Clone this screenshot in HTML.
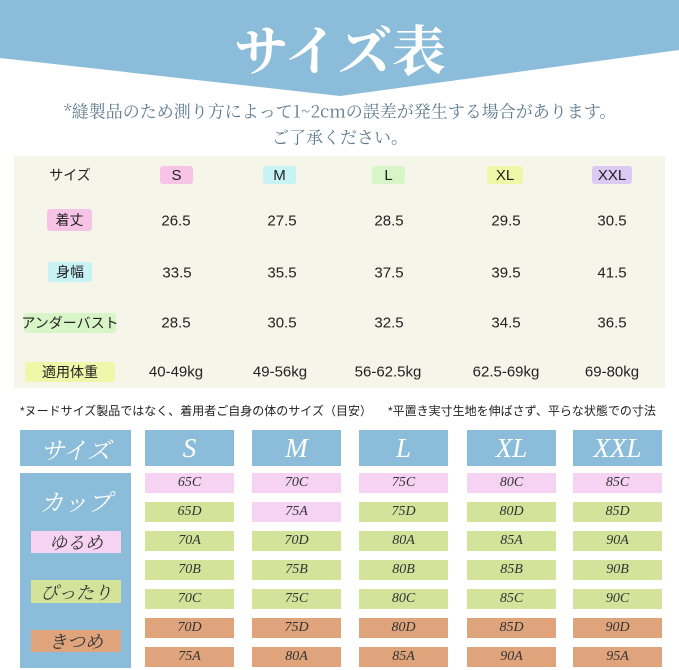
<!DOCTYPE html>
<html><head><meta charset="utf-8"><style>
body{margin:0;width:679px;height:670px;background:#fff;position:relative;overflow:hidden;font-family:"Liberation Sans","Noto Sans CJK JP",sans-serif}
.a{position:absolute}
.t{position:absolute;text-align:center;transform:translate(-50%,-50%);white-space:nowrap}
.b{position:absolute;display:flex;align-items:center;justify-content:center;font-family:"Liberation Serif","Noto Serif CJK SC",serif;font-style:italic;color:#333;font-size:14px}
.h{background:#8bbcd9;color:#fff;font-size:27px}
.p{background:#f6d3f2}.g{background:#d4e39a}.o{background:#e0a47c}
.bd{position:absolute;border-radius:3px;display:flex;align-items:center;justify-content:center;font-size:14px;color:#222;line-height:1;white-space:nowrap}
</style></head><body>
<svg class="a" style="left:0;top:0" width="679" height="100"><polygon points="0,0 679,0 679,50 340,96 0,58" fill="#8bbcd9"/></svg>
<div class="t" style="left:340px;top:48px;font-family:'Noto Serif CJK SC',serif;font-weight:bold;font-size:54px;color:#fff">サイズ表</div>
<div class="t" style="left:340px;top:110px;font-family:'Noto Serif CJK SC',serif;font-size:17px;color:#5e7b8e">*縫製品のため測り方によって1~2cmの誤差が発生する場合があります。</div>
<div class="t" style="left:340px;top:136px;font-family:'Noto Serif CJK SC',serif;font-size:17px;color:#5e7b8e">ご了承ください。</div>
<div class="a" style="left:14px;top:156px;width:651px;height:232px;background:#f6f5ea"></div>
<div style="font-size:15px;color:#222">
<div class="bd" style="left:160px;top:166px;width:33px;height:18px;background:#f7c3e6;font-size:15px">S</div>
<div class="bd" style="left:263px;top:166px;width:33px;height:18px;background:#c8f3f5;font-size:15px">M</div>
<div class="bd" style="left:372px;top:166px;width:33px;height:18px;background:#d8f5c8;font-size:15px">L</div>
<div class="bd" style="left:487px;top:166px;width:36px;height:18px;background:#eff8a8;font-size:15px">XL</div>
<div class="bd" style="left:592px;top:166px;width:40px;height:18px;background:#dccaf5;font-size:15px">XXL</div>
<div class="bd" style="left:30px;top:166px;width:80px;height:18px">サイズ</div>
<div class="bd" style="left:47px;top:209px;width:45px;height:22px;background:#f7c3e6">着丈</div>
<div class="bd" style="left:48px;top:262px;width:44px;height:20px;background:#c8f3f5">身幅</div>
<div class="bd" style="left:24px;top:313px;width:92px;height:20px;background:#d8f5c8">アンダーバスト</div>
<div class="bd" style="left:25px;top:362px;width:90px;height:20px;background:#eff8a8">適用体重</div>
<div class="t" style="left:176px;top:221px">26.5</div><div class="t" style="left:282px;top:221px">27.5</div><div class="t" style="left:389px;top:221px">28.5</div><div class="t" style="left:506px;top:221px">29.5</div><div class="t" style="left:612px;top:221px">30.5</div>
<div class="t" style="left:177px;top:273px">33.5</div><div class="t" style="left:282px;top:273px">35.5</div><div class="t" style="left:389px;top:273px">37.5</div><div class="t" style="left:506px;top:273px">39.5</div><div class="t" style="left:612px;top:273px">41.5</div>
<div class="t" style="left:176px;top:323px">28.5</div><div class="t" style="left:282px;top:323px">30.5</div><div class="t" style="left:389px;top:323px">32.5</div><div class="t" style="left:506px;top:323px">34.5</div><div class="t" style="left:612px;top:323px">36.5</div>
<div class="t" style="left:176px;top:372px">40-49kg</div><div class="t" style="left:280px;top:372px">49-56kg</div><div class="t" style="left:388px;top:372px">56-62.5kg</div><div class="t" style="left:506px;top:372px">62.5-69kg</div><div class="t" style="left:612px;top:372px">69-80kg</div>
</div>
<div class="a" style="left:20px;top:402px;font-size:12px;color:#222">*ヌードサイズ製品ではなく、着用者ご自身の体のサイズ（目安）</div>
<div class="a" style="left:388px;top:402px;font-size:12px;color:#222">*平置き実寸生地を伸ばさず、平らな状態での寸法</div>
<div class="b h" style="left:20px;top:430px;width:111px;height:36px;font-size:24px">サイズ</div>
<div class="b h" style="left:20px;top:473px;width:111px;height:195px;align-items:flex-start;padding-top:10px;box-sizing:border-box;font-size:24px">カップ</div>
<div class="b p" style="left:31px;top:531px;width:90px;height:22px;font-size:18px">ゆるめ</div>
<div class="b g" style="left:31px;top:580px;width:90px;height:23px;font-size:18px">ぴったり</div>
<div class="b o" style="left:31px;top:630px;width:90px;height:22px;font-size:18px">きつめ</div>
<div class="b h" style="left:145px;top:430px;width:89px;height:36px">S</div>
<div class="b h" style="left:252px;top:430px;width:89px;height:36px">M</div>
<div class="b h" style="left:359px;top:430px;width:89px;height:36px">L</div>
<div class="b h" style="left:467px;top:430px;width:89px;height:36px">XL</div>
<div class="b h" style="left:573px;top:430px;width:89px;height:36px">XXL</div>
<div id="g"></div>
<script>
var xs=[145,252,359,467,573],ys=[473,502,531,560,589,618,647];
var d=[["65C","65D","70A","70B","70C","70D","75A"],["70C","75A","70D","75B","75C","75D","80A"],["75C","75D","80A","80B","80C","80D","85A"],["80C","80D","85A","85B","85C","85D","90A"],["85C","85D","90A","90B","90C","90D","95A"]];
var h="";for(var c=0;c<5;c++)for(var r=0;r<7;r++){var cl=r>=5?"o":(r==0||(c==1&&r==1))?"p":"g";h+='<div class="b '+cl+'" style="left:'+xs[c]+'px;top:'+ys[r]+'px;width:89px;height:20px">'+d[c][r]+'</div>';}
document.getElementById("g").innerHTML=h;
</script>
</body></html>
